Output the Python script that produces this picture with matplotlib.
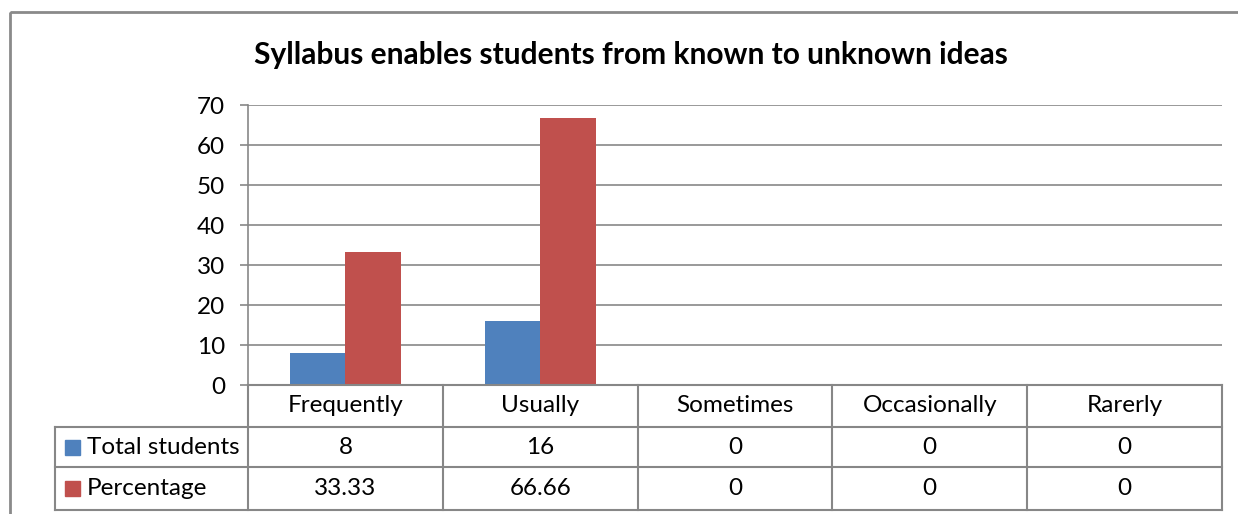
import matplotlib.pyplot as plt
from matplotlib.patches import Rectangle
import numpy as np

# DATA
categories = ["Frequently", "Usually", "Sometimes", "Occasionally", "Rarerly"]
total_students = [8, 16, 0, 0, 0]
percentage = [33.33, 66.66, 0, 0, 0]
series_names = ["Total students", "Percentage"]
pct_labels = ["33.33", "66.66", "0", "0", "0"]

BLUE = "#4F81BD"
RED = "#C0504D"
GRID = "#878787"
FONT = "Lato"
FS = 17.5

W, H = 1238, 514
plt.rcParams["font.family"] = [FONT, "DejaVu Sans"]

fig = plt.figure(figsize=(W / 100, H / 100), dpi=100)

# plot area in pixels
PX0, PX1, PY0, PY1 = 248, 1222, 105, 385

def fbox(x0, y0, x1, y1):
    return [x0 / W, 1 - y1 / H, (x1 - x0) / W, (y1 - y0) / H]

ax = fig.add_axes(fbox(PX0, PY0, PX1, PY1))
x = np.arange(len(categories))
bw = 1 / 3.5
ax.bar(x - bw / 2, total_students, bw, color=BLUE, zorder=3)
ax.bar(x + bw / 2, percentage, bw, color=RED, zorder=3)
ax.set_xlim(-0.5, len(categories) - 0.5)
ax.set_ylim(0, 70)
ax.set_yticks(range(0, 71, 10))
ax.yaxis.grid(True, color=GRID, linewidth=1.2, zorder=0)
ax.set_xticks([])
for s in ["top", "right", "bottom"]:
    ax.spines[s].set_visible(False)
ax.spines["left"].set_color(GRID)
ax.spines["left"].set_linewidth(1.2)
ax.tick_params(axis="y", length=5.5, width=1.2, color=GRID, labelsize=FS, pad=11)

# overlay in pixel coordinates for table and border
ov = fig.add_axes([0, 0, 1, 1], zorder=5)
ov.set_xlim(0, W)
ov.set_ylim(H, 0)
ov.axis("off")
ov.patch.set_alpha(0)

ov.add_patch(Rectangle((10, 12), 1300, 600, fill=False, edgecolor="#8a8a8a", linewidth=2))

ov.text(631, 55, "Syllabus enables students from known to unknown ideas",
        ha="center", va="center", fontsize=21.5, fontweight="bold")

cw = (PX1 - PX0) / len(categories)
rows = [385, 427, 467, 510]
LX = 55
lc = dict(color=GRID, linewidth=1.5)
# horizontal lines
ov.plot([PX0, PX1], [rows[0], rows[0]], **lc)
for r in rows[1:]:
    ov.plot([LX, PX1], [r, r], **lc)
# vertical lines
ov.plot([LX, LX], [rows[1], rows[3]], **lc)
for i in range(len(categories) + 1):
    xx = PX0 + i * cw
    ov.plot([xx, xx], [rows[0], rows[3]], **lc)

for i, c in enumerate(categories):
    cx = PX0 + (i + 0.5) * cw
    ov.text(cx, (rows[0] + rows[1]) / 2, c, ha="center", va="center", fontsize=FS)
    ov.text(cx, (rows[1] + rows[2]) / 2, str(total_students[i]), ha="center", va="center", fontsize=FS)
    ov.text(cx, (rows[2] + rows[3]) / 2, pct_labels[i], ha="center", va="center", fontsize=FS)

for j, (name, col) in enumerate(zip(series_names, [BLUE, RED])):
    cy = (rows[j + 1] + rows[j + 2]) / 2
    ov.add_patch(Rectangle((65, cy - 7.5), 15, 15, color=col))
    ov.text(87, cy, name, ha="left", va="center", fontsize=FS)

fig.savefig("out.png", dpi=100)
